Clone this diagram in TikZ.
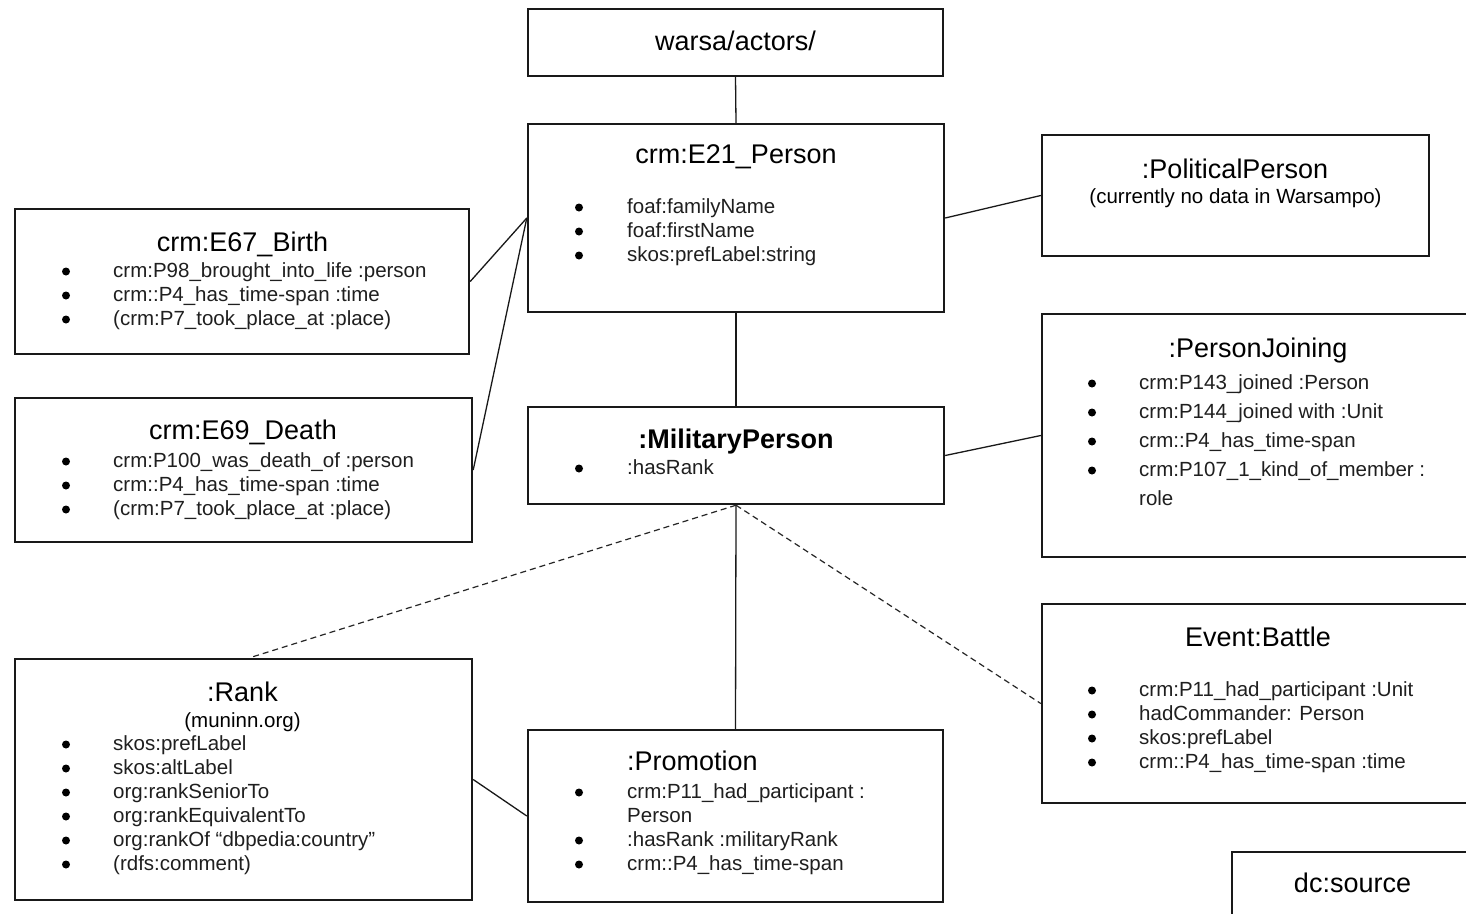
\documentclass[tikz,border=0pt]{standalone}
\usepackage{fontspec}
\setmainfont{Liberation Sans}
\usetikzlibrary{calc}
\tikzset{
  box/.style={draw=black!90, line width=2.4pt, rectangle, inner sep=0pt},
  conn/.style={draw=black!90, line width=1.3pt},
  dconn/.style={draw=black!85, line width=1.2pt, dash pattern=on 6pt off 4pt},
  ttl/.style={anchor=base, inner sep=0pt, font=\fontsize{27}{31}\selectfont},
  btl/.style={anchor=base, inner sep=0pt, font=\fontsize{27}{31}\selectfont\bfseries},
  sub/.style={anchor=base, inner sep=0pt, font=\fontsize{20.5}{24}\selectfont},
  item/.style={anchor=base west, inner sep=0pt, font=\fontsize{20.5}{24}\selectfont, text=black!88},
  bul/.style={circle, fill=black, inner sep=0pt, minimum size=8pt},
}
\begin{document}
\begin{tikzpicture}[x=1pt, y=-1pt]
\useasboundingbox (0,0) rectangle (1466,913);
\clip (0,0) rectangle (1466,913);
\fill[white] (0,0) rectangle (1466,913);

% boxes
\node[box, minimum width=415pt, minimum height=67pt] (warsa) at (735.5,42.5) {};
\node[box, minimum width=416pt, minimum height=188pt] (person) at (736,218) {};
\node[box, minimum width=454pt, minimum height=145pt] (birth) at (242,281.5) {};
\node[box, minimum width=457pt, minimum height=144pt] (death) at (243.5,470) {};
\node[box, minimum width=387pt, minimum height=121pt] (polit) at (1235.5,195.5) {};
\node[box, minimum width=416pt, minimum height=97pt] (milit) at (736,455.5) {};
\node[box, minimum width=438pt, minimum height=243pt] (join) at (1261,435.5) {};
\node[box, minimum width=457pt, minimum height=241pt] (rank) at (243.5,779.5) {};
\node[box, minimum width=415pt, minimum height=172pt] (promo) at (735.5,816) {};
\node[box, minimum width=438pt, minimum height=199pt] (battle) at (1261,703.5) {};
\node[box, minimum width=248pt, minimum height=88pt] (source) at (1356,896) {};

% connectors
\draw[conn] (warsa.south) -- (person.north);
\draw[conn] (person.west) -- (birth.east);
\draw[conn] (person.west) -- (death.east);
\draw[conn] (person.east) -- (polit.west);
\draw[conn] (person.south) -- (milit.north);
\draw[conn] (milit.east) -- (join.west);
\draw[conn] (milit.south) -- (promo.north);
\draw[conn] (rank.east) -- (promo.west);
\coordinate (rankTop) at ($(rank.north)+(6,0)$);
\draw[dconn] (milit.south) -- (rankTop);
\draw[dconn] (milit.south) -- (battle.west);

% warsa
\node[ttl] (warsaT) at (735.5,50) {warsa/actors/};

% person
\node[ttl] (personT) at (736,163) {crm:E21\_Person};
\node[bul] (pb1) at (579,207.5) {};
\node[bul] (pb2) at (579,231.5) {};
\node[bul] (pb3) at (579,255.5) {};
\node[item] (p1) at (627,213) {foaf:familyName};
\node[item] (p2) at (627,237) {foaf:firstName};
\node[item] (p3) at (627,261) {skos:prefLabel:string};

% birth
\node[ttl] (birthT) at (242.5,251) {crm:E67\_Birth};
\node[bul] (bb1) at (66,271.5) {};
\node[bul] (bb2) at (66,295.5) {};
\node[bul] (bb3) at (66,319.5) {};
\node[item] (b1) at (113,277) {crm:P98\_brought\_into\_life :person};
\node[item] (b2) at (113,301) {crm::P4\_has\_time-span :time};
\node[item] (b3) at (113,325) {(crm:P7\_took\_place\_at :place)};

% death
\node[ttl] (deathT) at (243,439) {crm:E69\_Death};
\node[bul] (db1) at (66,461.5) {};
\node[bul] (db2) at (66,485.5) {};
\node[bul] (db3) at (66,509.5) {};
\node[item] (d1) at (113,467) {crm:P100\_was\_death\_of :person};
\node[item] (d2) at (113,491) {crm::P4\_has\_time-span :time};
\node[item] (d3) at (113,515) {(crm:P7\_took\_place\_at :place)};

% political
\node[ttl] (politT) at (1235,178) {:PoliticalPerson};
\node[sub] (politS) at (1235.5,203) {(currently no data in Warsampo)};

% military
\node[btl] (militT) at (736,448) {:MilitaryPerson};
\node[bul] (mb1) at (579,468.5) {};
\node[item] (m1) at (627,474) {:hasRank};

% joining
\node[ttl] (joinT) at (1258,357) {:PersonJoining};
\node[bul] (jb1) at (1092,383.5) {};
\node[bul] (jb2) at (1092,412.5) {};
\node[bul] (jb3) at (1092,441.5) {};
\node[bul] (jb4) at (1092,470.5) {};
\node[item] (j1) at (1139,389) {crm:P143\_joined :Person};
\node[item] (j2) at (1139,418) {crm:P144\_joined with :Unit};
\node[item] (j3) at (1139,447) {crm::P4\_has\_time-span};
\node[item] (j4) at (1139,476) {crm:P107\_1\_kind\_of\_member :};
\node[item] (j5) at (1139,505) {role};

% rank
\node[ttl] (rankT) at (242.5,701) {:Rank};
\node[sub] (rankS) at (242.5,727) {(muninn.org)};
\node[bul] (rb1) at (66,744.5) {};
\node[bul] (rb2) at (66,768.5) {};
\node[bul] (rb3) at (66,792.5) {};
\node[bul] (rb4) at (66,816.5) {};
\node[bul] (rb5) at (66,840.5) {};
\node[bul] (rb6) at (66,864.5) {};
\node[item] (r1) at (113,750) {skos:prefLabel};
\node[item] (r2) at (113,774) {skos:altLabel};
\node[item] (r3) at (113,798) {org:rankSeniorTo};
\node[item] (r4) at (113,822) {org:rankEquivalentTo};
\node[item] (r5) at (113,846) {org:rankOf “dbpedia:country”};
\node[item] (r6) at (113,870) {(rdfs:comment)};

% promotion
\node[ttl, anchor=base west] (promoT) at (627,770) {:Promotion};
\node[bul] (ob1) at (579,792.5) {};
\node[bul] (ob2) at (579,840.5) {};
\node[bul] (ob3) at (579,864.5) {};
\node[item] (o1) at (627,798) {crm:P11\_had\_participant :};
\node[item] (o2) at (627,822) {Person};
\node[item] (o3) at (627,846) {:hasRank :militaryRank};
\node[item] (o4) at (627,870) {crm::P4\_has\_time-span};

% battle
\node[ttl] (battleT) at (1258,646) {Event:Battle};
\node[bul] (eb1) at (1092,690.5) {};
\node[bul] (eb2) at (1092,714.5) {};
\node[bul] (eb3) at (1092,738.5) {};
\node[bul] (eb4) at (1092,762.5) {};
\node[item] (e1) at (1139,696) {crm:P11\_had\_participant :Unit};
\node[item] (e2) at (1139,720) {hadCommander: Person};
\node[item] (e3) at (1139,744) {skos:prefLabel};
\node[item] (e4) at (1139,768) {crm::P4\_has\_time-span :time};

% source
\node[ttl] (sourceT) at (1352.5,892) {dc:source};
\end{tikzpicture}
\end{document}
